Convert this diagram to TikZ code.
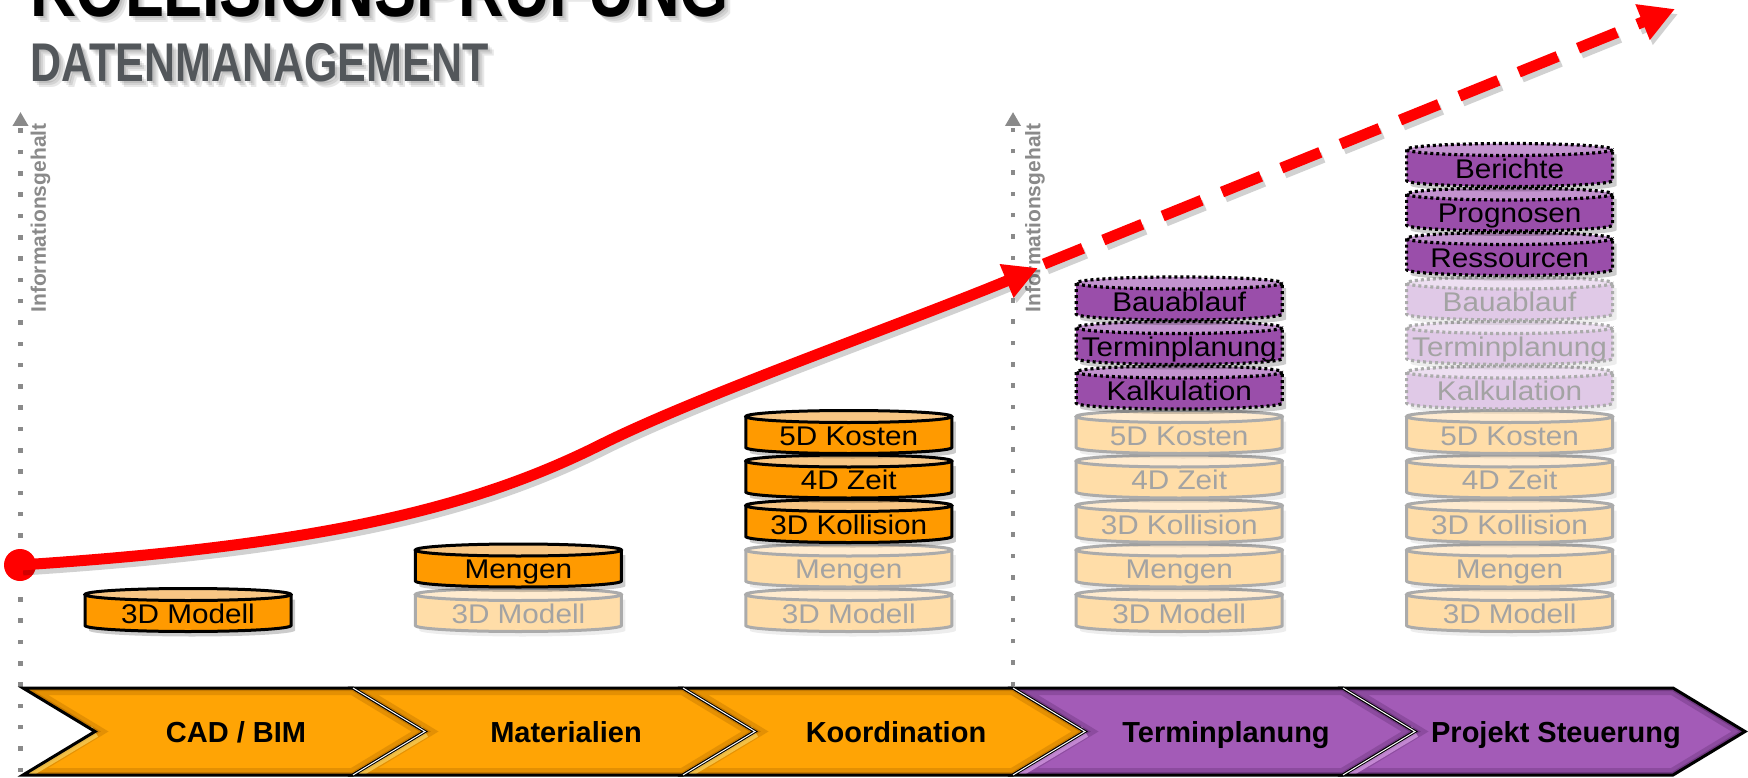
\documentclass[tikz,border=0pt]{standalone}
\usepackage{fontspec}
\setmainfont{Liberation Sans}
\usetikzlibrary{arrows.meta}

% palette
\definecolor{orgdisk}{HTML}{FF9A00}
\definecolor{orgtop}{HTML}{F8C684}
\definecolor{orgfade}{HTML}{FFDDA8}
\definecolor{orgfadetop}{HTML}{FFEBCF}
\definecolor{fadeline}{HTML}{ABABAB}
\definecolor{fadetext}{HTML}{A3A3A3}
\definecolor{purdisk}{HTML}{9A4EAA}
\definecolor{purtop}{HTML}{C393CF}
\definecolor{purfade}{HTML}{E0C9E7}
\definecolor{purfadetop}{HTML}{EDDFF1}
\definecolor{chevorg}{HTML}{FFA405}
\definecolor{chevorgdark}{HTML}{A86400}
\definecolor{chevorglight}{HTML}{FFE070}
\definecolor{chevpur}{HTML}{A35BB7}
\definecolor{chevpurdark}{HTML}{5A2868}
\definecolor{chevpurlight}{HTML}{E8B0F5}
\definecolor{axisgray}{HTML}{8A8A8A}
\definecolor{subgray}{HTML}{53575B}

\tikzset{
  % data disks: on = current orange, off = earlier orange, pon = current purple, poff = earlier purple
  fill-on/.style={fill=orgdisk},
  line-on/.style={draw=black, line width=3pt},
  top-on/.style={fill=orgtop, draw=black, line width=3pt},
  text-on/.style={text=black},
  shade-on/.style={black, opacity=.2},
  fill-off/.style={fill=orgfade},
  line-off/.style={draw=fadeline, line width=3pt},
  top-off/.style={fill=orgfadetop, draw=fadeline, line width=3pt},
  text-off/.style={text=fadetext},
  shade-off/.style={black, opacity=.07},
  fill-pon/.style={fill=purdisk},
  line-pon/.style={draw=black, line width=3.2pt, dash pattern=on 3pt off 3pt},
  top-pon/.style={fill=purtop, draw=black, line width=3.2pt, dash pattern=on 3pt off 3pt},
  text-pon/.style={text=black},
  shade-pon/.style={black, opacity=.2},
  fill-poff/.style={fill=purfade},
  line-poff/.style={draw=fadeline, line width=3.2pt, dash pattern=on 3pt off 3pt},
  top-poff/.style={fill=purfadetop, draw=fadeline, line width=3.2pt, dash pattern=on 3pt off 3pt},
  text-poff/.style={text=fadetext},
  shade-poff/.style={black, opacity=.07},
  disklabel/.style={inner sep=0pt, font=\fontsize{27}{27}\selectfont},
  chevlabel/.style={inner sep=0pt, text=black, font=\bfseries\fontsize{29}{29}\selectfont},
  axisline/.style={axisgray, line width=4.5pt, dash pattern=on 4.5pt off 16.8pt,
    -{Triangle[length=14pt,width=15pt]}},
  axislabel/.style={rotate=90, inner sep=0pt, text=axisgray, font=\bfseries\fontsize{21}{21}\selectfont},
  redline/.style={red, line width=11pt},
  headshadow/.style={anchor=base west, inner sep=0pt, text=black, opacity=.09},
}

% one stacked disk: #1 centre x, #2 level (1 = bottom), #3 kind, #4 node name, #5 label
\newcommand\datadisk[5]{%
  \pgfmathsetmacro\dT{588.5-(#2-1)*44.5}%
  \pgfmathsetmacro\dL{#1-103}%
  \pgfmathsetmacro\dR{#1+103}%
  \pgfmathsetmacro\dA{#1-56.9}%
  \pgfmathsetmacro\dB{#1+56.9}%
  \def\dbody{(\dL,\dT+6) -- (\dL,\dT+37) .. controls (\dL,\dT+40.31) and (\dA,\dT+43) .. (#1,\dT+43)
     .. controls (\dB,\dT+43) and (\dR,\dT+40.31) .. (\dR,\dT+37) -- (\dR,\dT+6)}%
  \fill[shade-#3, shift={(4,5)}] \dbody -- cycle;
  \fill[fill-#3] \dbody -- cycle;
  \draw[line-#3] \dbody;
  \path[top-#3] (#1,\dT+6) ellipse [x radius=103, y radius=6];
  \node[disklabel, text-#3, anchor=base] (#4) at (#1,\dT+34.8) {\scalebox{1.1}[1]{#5}};
}

% one process chevron: #1 left x, #2 fill, #3 dark bevel, #4 highlight, #5 node name, #6 label
\newcommand\stagearrow[6]{%
  \def\chevpath{(#1,688) -- (#1+330,688) -- (#1+402,731.5) -- (#1+330,775) -- (#1,775) -- (#1+72,731.5) -- cycle}%
  \fill[#2] \chevpath;
  \begin{scope}
    \clip \chevpath;
    \draw[#3, line width=14pt, opacity=.3, line join=miter] \chevpath;
    \draw[#3, line width=6pt, opacity=.5, line join=miter] \chevpath;
    \draw[#4, line width=12pt, opacity=.6] (#1-4,777) -- (#1+72,731.5);
  \end{scope}
  \draw[black, line width=3pt, line join=miter] \chevpath;
  \node[chevlabel, anchor=base] (#5) at (#1+213,742.5) {#6};
}

\begin{document}
\begin{tikzpicture}[x=1pt,y=-1pt]
\useasboundingbox (0,0) rectangle (1748,778);
\fill[white] (0,0) rectangle (1748,778);
\clip (0,0) rectangle (1748,778);

% headings with soft shadows
\foreach \o in {2,4,6}{
  \node[headshadow, font=\bfseries\fontsize{80}{80}\selectfont]
    (titleshadow\o) at (30+\o,17+\o) {\scalebox{0.79}[1]{KOLLISIONSPRÜFUNG}};
  \node[headshadow, font=\bfseries\fontsize{54.5}{54.5}\selectfont]
    (subtitleshadow\o) at (30+\o,82+\o) {\scalebox{0.79}[1]{DATENMANAGEMENT}};
}
\node[anchor=base west, inner sep=0pt, text=black, font=\bfseries\fontsize{80}{80}\selectfont]
  (title) at (30,17) {\scalebox{0.79}[1]{KOLLISIONSPRÜFUNG}};
\node[anchor=base west, inner sep=0pt, text=subgray, font=\bfseries\fontsize{54.5}{54.5}\selectfont]
  (subtitle) at (30,82) {\scalebox{0.79}[1]{DATENMANAGEMENT}};

% information axes
\coordinate (axisAbot) at (20.5,772);
\coordinate (axisAtop) at (20.5,112);
\coordinate (axisBbot) at (1013,686);
\coordinate (axisBtop) at (1013,112);
\draw[axisline] (axisAbot) -- (axisAtop);
\draw[axisline] (axisBbot) -- (axisBtop);
\node[axislabel] (infoA) at (40.5,218) {Informationsgehalt};
\node[axislabel] (infoB) at (1035,218) {Informationsgehalt};

% process chevrons
\stagearrow{23}{chevorg}{chevorgdark}{chevorglight}{cad}{CAD / BIM}
\stagearrow{353}{chevorg}{chevorgdark}{chevorglight}{mat}{Materialien}
\stagearrow{683}{chevorg}{chevorgdark}{chevorglight}{koo}{Koordination}
\stagearrow{1013}{chevpur}{chevpurdark}{chevpurlight}{ter}{Terminplanung}
\stagearrow{1343}{chevpur}{chevpurdark}{chevpurlight}{pro}{Projekt Steuerung}
\foreach \sx in {353,683,1013,1343}
  \draw[white, line width=1pt] (\sx,688) -- (\sx+72,731.5) -- (\sx,775);

% column 1
\datadisk{188}{1}{on}{aModell}{3D Modell}
% column 2
\datadisk{518.4}{1}{off}{bModell}{3D Modell}
\datadisk{518.4}{2}{on}{bMengen}{Mengen}
% column 3
\datadisk{848.8}{1}{off}{cModell}{3D Modell}
\datadisk{848.8}{2}{off}{cMengen}{Mengen}
\datadisk{848.8}{3}{on}{cKollision}{3D Kollision}
\datadisk{848.8}{4}{on}{cZeit}{4D Zeit}
\datadisk{848.8}{5}{on}{cKosten}{5D Kosten}
% column 4
\datadisk{1179.2}{1}{off}{dModell}{3D Modell}
\datadisk{1179.2}{2}{off}{dMengen}{Mengen}
\datadisk{1179.2}{3}{off}{dKollision}{3D Kollision}
\datadisk{1179.2}{4}{off}{dZeit}{4D Zeit}
\datadisk{1179.2}{5}{off}{dKosten}{5D Kosten}
\datadisk{1179.2}{6}{pon}{dKalk}{Kalkulation}
\datadisk{1179.2}{7}{pon}{dTermin}{Terminplanung}
\datadisk{1179.2}{8}{pon}{dBau}{Bauablauf}
% column 5
\datadisk{1509.6}{1}{off}{eModell}{3D Modell}
\datadisk{1509.6}{2}{off}{eMengen}{Mengen}
\datadisk{1509.6}{3}{off}{eKollision}{3D Kollision}
\datadisk{1509.6}{4}{off}{eZeit}{4D Zeit}
\datadisk{1509.6}{5}{off}{eKosten}{5D Kosten}
\datadisk{1509.6}{6}{poff}{eKalk}{Kalkulation}
\datadisk{1509.6}{7}{poff}{eTermin}{Terminplanung}
\datadisk{1509.6}{8}{poff}{eBau}{Bauablauf}
\datadisk{1509.6}{9}{pon}{eRes}{Ressourcen}
\datadisk{1509.6}{10}{pon}{eProg}{Prognosen}
\datadisk{1509.6}{11}{pon}{eBer}{Berichte}

% growth curve
\node[circle, fill=red, minimum size=32pt, inner sep=0pt] (origin) at (20,565) {};
\coordinate (bend) at (600,445);
\coordinate (tipA) at (1038,268);
\coordinate (dashstart) at (1044,264);
\coordinate (tipB) at (1675,9);
\begin{scope}[transform canvas={shift={(3,5)}}, transparency group, opacity=.18]
  \draw[black, line width=11pt, -{Triangle[length=34pt,width=34pt]}]
    (origin.center) .. controls (330,545) and (480,505) .. (bend)
    .. controls (700,395) and (900,325) .. (tipA);
  \draw[black, line width=11pt, dash pattern=on 42pt off 22pt, -{Triangle[length=35pt,width=36pt]}]
    (dashstart) -- (tipB);
\end{scope}
\draw[redline, -{Triangle[length=34pt,width=34pt]}]
  (origin.center) .. controls (330,545) and (480,505) .. (bend)
  .. controls (700,395) and (900,325) .. (tipA);
\draw[redline, dash pattern=on 42pt off 22pt, -{Triangle[length=35pt,width=36pt]}]
  (dashstart) -- (tipB);
\end{tikzpicture}
\end{document}
